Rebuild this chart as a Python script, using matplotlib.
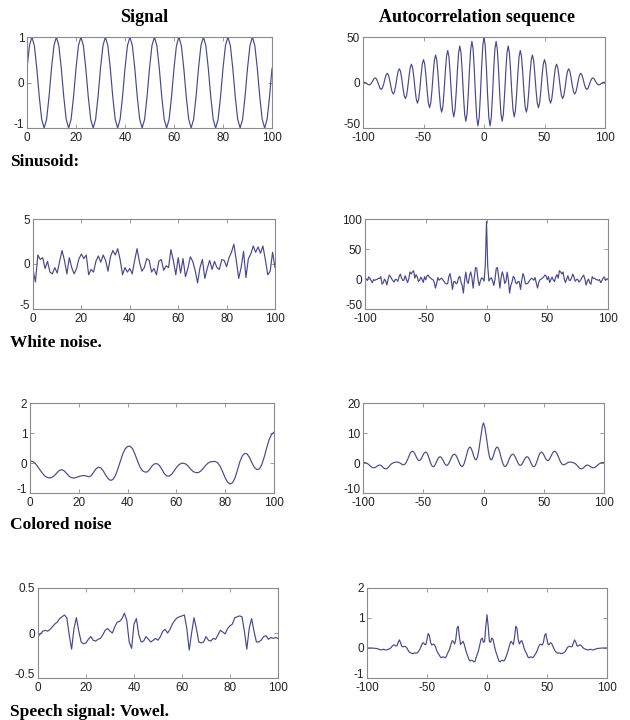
import numpy as np
import matplotlib
matplotlib.use("Agg")
import matplotlib.pyplot as plt
import matplotlib.transforms as mtransforms

plt.rcParams["axes.unicode_minus"] = False

# Signals, one value per sample n = 0..100.

sinusoid = [
    0.31, 0.81, 1.00, 0.81, 0.31, -0.31, -0.81, -1.00, -0.81, -0.31,
    0.31, 0.81, 1.00, 0.81, 0.31, -0.31, -0.81, -1.00, -0.81, -0.31,
    0.31, 0.81, 1.00, 0.81, 0.31, -0.31, -0.81, -1.00, -0.81, -0.31,
    0.31, 0.81, 1.00, 0.81, 0.31, -0.31, -0.81, -1.00, -0.81, -0.31,
    0.31, 0.81, 1.00, 0.81, 0.31, -0.31, -0.81, -1.00, -0.81, -0.31,
    0.31, 0.81, 1.00, 0.81, 0.31, -0.31, -0.81, -1.00, -0.81, -0.31,
    0.31, 0.81, 1.00, 0.81, 0.31, -0.31, -0.81, -1.00, -0.81, -0.31,
    0.31, 0.81, 1.00, 0.81, 0.31, -0.31, -0.81, -1.00, -0.81, -0.31,
    0.31, 0.81, 1.00, 0.81, 0.31, -0.31, -0.81, -1.00, -0.81, -0.31,
    0.31, 0.81, 1.00, 0.81, 0.31, -0.31, -0.81, -1.00, -0.81, -0.31,
    0.31,
]

white_noise = [
    -0.6, -2.0, 1.0, 0.5, 0.7, -0.5, 0.3, -0.9, -1.1, -0.4,
    -1.0, 0.3, 1.5, 0.4, -1.1, 0.7, -0.4, -1.1, -0.5, 0.6,
    1.1, 0.6, 1.0, -1.2, -0.6, -0.9, 0.3, 0.9, 0.2, 1.0,
    0.4, -0.8, 0.8, 1.5, 1.0, 1.7, 0.5, -1.2, -0.4, -0.9,
    -0.5, -1.1, 0.4, 1.7, 0.2, -0.8, -0.4, 0.6, 0.4, -0.9,
    -0.5, -1.2, 0.3, 0.5, -0.7, -0.2, -0.4, 1.6, 0.4, -1.2,
    0.7, -1.0, 0.6, -1.4, -0.5, 0.8, 0.3, -0.7, -2.1, -0.4,
    0.5, -1.6, -0.5, 0.4, -0.6, 0.3, -0.4, -0.6, 0.5, 0.4,
    -0.3, 0.7, 1.3, 2.2, 0.4, -1.6, -0.4, 1.4, -1.5, 0.6,
    1.1, 2.0, 1.3, 1.9, 1.2, 2.0, 0.5, -1.2, -0.8, 1.3,
    -0.4,
]

colored_noise = [
    0.07, 0.05, 0.00, -0.10, -0.22, -0.33, -0.43, -0.48, -0.50, -0.48,
    -0.42, -0.33, -0.25, -0.22, -0.26, -0.35, -0.44, -0.49, -0.50, -0.48,
    -0.45, -0.43, -0.42, -0.43, -0.46, -0.43, -0.32, -0.20, -0.14, -0.16,
    -0.26, -0.40, -0.52, -0.58, -0.55, -0.42, -0.20, 0.05, 0.30, 0.47,
    0.55, 0.56, 0.48, 0.30, 0.08, -0.12, -0.25, -0.30, -0.30, -0.22,
    -0.10, -0.03, -0.02, -0.08, -0.20, -0.35, -0.43, -0.44, -0.38, -0.27,
    -0.15, -0.06, -0.01, -0.01, -0.04, -0.12, -0.22, -0.29, -0.32, -0.32,
    -0.27, -0.18, -0.08, 0.00, 0.04, 0.05, 0.05, 0.00, -0.12, -0.30,
    -0.50, -0.64, -0.70, -0.66, -0.50, -0.24, 0.04, 0.24, 0.32, 0.30,
    0.18, 0.00, -0.15, -0.22, -0.20, -0.05, 0.20, 0.50, 0.78, 0.95,
    1.03,
]

speech = [
    -0.04, -0.01, 0.02, 0.03, 0.02, 0.04, 0.07, 0.10, 0.12, 0.16,
    0.18, 0.20, 0.17, -0.02, -0.18, 0.05, 0.17, 0.02, -0.10, -0.12,
    -0.11, -0.07, -0.04, -0.08, -0.09, -0.07, -0.06, -0.02, 0.03, 0.05,
    0.02, 0.00, 0.07, 0.12, 0.13, 0.16, 0.22, 0.14, -0.10, -0.17,
    0.10, 0.16, -0.02, -0.10, -0.09, -0.04, -0.07, -0.10, -0.08, -0.06,
    -0.08, -0.04, 0.02, 0.04, 0.00, 0.04, 0.10, 0.14, 0.17, 0.18,
    0.19, 0.20, 0.05, -0.19, 0.00, 0.17, 0.05, -0.10, -0.11, -0.10,
    -0.04, -0.08, -0.09, -0.06, -0.07, -0.02, 0.03, 0.01, -0.01, 0.05,
    0.08, 0.10, 0.17, 0.18, 0.19, 0.18, 0.02, -0.18, 0.05, 0.16,
    0.02, -0.10, -0.10, -0.08, -0.04, -0.03, -0.07, -0.05, -0.06, -0.05,
    -0.06,
]

row_names = ["Sinusoid:", "White noise.", "Colored noise", "Speech signal: Vowel."]
signals = [sinusoid, white_noise, colored_noise, speech]

sig_ylim = [(-1, 1), (-5, 5), (-1, 2), (-0.5, 0.5)]
sig_yticks = [[-1, 0, 1], [-5, 0, 5], [-1, 0, 1, 2], [-0.5, 0, 0.5]]
sig_ylabels = [["-1", "0", "1"], ["-5", "0", "5"], ["-1", "0", "1", "2"], ["-0.5", "0", "0.5"]]
ac_ylim = [(-50, 50), (-50, 100), (-10, 20), (-1, 2)]
ac_yticks = [[-50, 0, 50], [-50, 0, 50, 100], [-10, 0, 10, 20], [-1, 0, 1, 2]]
sig_xticks = [0, 20, 40, 60, 80, 100]
ac_xticks = [-100, -50, 0, 50, 100]

# axes boxes in pixels (left, top, right, bottom) measured on the 630x720 picture
left_boxes = [(27, 37, 272, 128), (33, 219, 275, 309), (30, 403, 274, 493), (38, 588, 278, 678)]
right_boxes = [(363, 37, 605, 128), (365, 219, 608, 309), (363, 403, 604, 493), (367, 588, 607, 678)]
label_y = [162, 343, 525, 712]

W, H = 630, 720
LINE = "#48488f"
EDGE = "#8a8a8a"

fig = plt.figure(figsize=(W / 100, H / 100), dpi=100)


def make_axes(box):
    l, t, r, b = box
    ax = fig.add_axes([l / W, 1 - b / H, (r - l) / W, (b - t) / H])
    for s in ax.spines.values():
        s.set_color(EDGE)
        s.set_linewidth(0.8)
    ax.tick_params(direction="in", length=3, width=0.6, color=EDGE,
                   top=True, right=True, labelsize=8.5, labelcolor="#222222")
    ax.tick_params(axis="y", pad=2)
    ax.tick_params(axis="x", pad=3)
    return ax


def finish_labels(ax):
    for lab in ax.get_xticklabels() + ax.get_yticklabels():
        lab.set_family("Liberation Sans")
    # lowest y label sits just above the corner, as in the MATLAB export
    lift = mtransforms.ScaledTranslation(0, 3 / 72, fig.dpi_scale_trans)
    low = ax.get_yticklabels()[0]
    low.set_transform(low.get_transform() + lift)


for i in range(4):
    x = np.array(signals[i])
    n = np.arange(len(x))
    ac = np.correlate(x, x, mode="full")
    lags = np.arange(-(len(x) - 1), len(x))

    ax = make_axes(left_boxes[i])
    ax.plot(n, x, color=LINE, lw=0.85)
    ax.set_xlim(0, 100)
    ax.set_ylim(*sig_ylim[i])
    ax.set_xticks(sig_xticks)
    ax.set_yticks(sig_yticks[i])
    ax.set_yticklabels(sig_ylabels[i])
    finish_labels(ax)

    ax2 = make_axes(right_boxes[i])
    ax2.plot(lags, ac, color=LINE, lw=0.85)
    ax2.set_xlim(-100, 100)
    ax2.set_ylim(*ac_ylim[i])
    ax2.set_xticks(ac_xticks)
    ax2.set_yticks(ac_yticks[i])
    finish_labels(ax2)

    fig.text(10 / W, 1 - label_y[i] / H, row_names[i], family="Liberation Serif",
             weight="bold", fontsize=12.5, ha="left", va="center")

fig.text(144 / W, 1 - 18 / H, "Signal", family="Liberation Serif",
         weight="bold", fontsize=13, ha="center", va="center")
fig.text(477 / W, 1 - 18 / H, "Autocorrelation sequence", family="Liberation Serif",
         weight="bold", fontsize=13, ha="center", va="center")

fig.savefig("out.png", dpi=100)
